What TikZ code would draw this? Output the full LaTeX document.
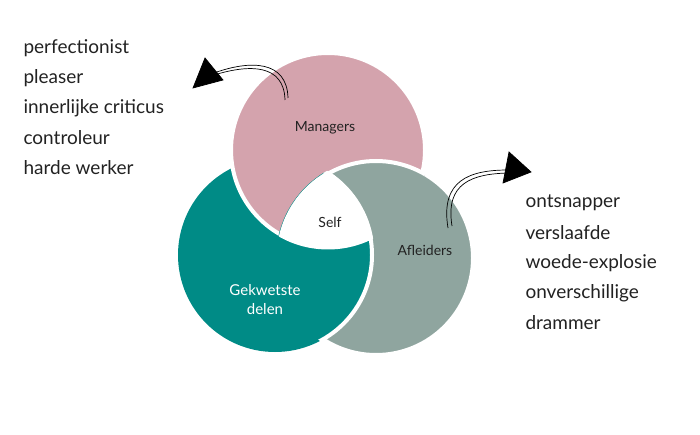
\documentclass[tikz,border=0pt]{standalone}
\usepackage{fontspec}
\setmainfont{Lato}
\definecolor{pinkc}{HTML}{D4A3AD}
\definecolor{tealc}{HTML}{008B86}
\definecolor{greyc}{HTML}{8FA59F}
\definecolor{txt}{HTML}{222222}
\begin{document}
\begin{tikzpicture}[x=1pt,y=-1pt,
  blob/.style={draw=white,line width=4pt},
  lst/.style={anchor=west,font=\fontsize{19}{19}\selectfont,text=txt},
  lab/.style={font=\fontsize{14}{17}\selectfont,text=txt,align=center},
  sk/.style={black,line width=0.7pt}]
\useasboundingbox (0,0) rectangle (700,435);
\def\P{(328,150) circle (97)}
\def\T{(275,255) circle (97)}
\def\G{(376,258) circle (97)}
\fill[tealc] \T;
\filldraw[greyc,blob] \G;
\filldraw[pinkc,blob] \P;
\begin{scope}\clip (328,150) circle (100); \filldraw[greyc,blob] \G; \end{scope}
\begin{scope}\clip (376,258) circle (100); \filldraw[tealc,blob] \T; \end{scope}
\begin{scope}\clip (328,150) circle (99.5); \clip (275,255) circle (99.5); \fill[white] (376,258) circle (99.5); \end{scope}
\node[lab] (m) at (325,128) {Managers};
\node[lab] (s) at (330,222) {Self};
\node[lab] (a) at (425,250) {Afleiders};
\node[lab,text=white,font=\fontsize{15}{19}\selectfont] (g) at (265,300) {Gekwetste\\delen};
\foreach \t [count=\i] in {perfectionist,pleaser,innerlijke criticus,controleur,harde werker}
  \node[lst] (l\i) at (20,48+30*\i-30) {\t};
\foreach \t [count=\i] in {ontsnapper,verslaafde,woede-explosie,onverschillige,drammer}
  \node[lst] (r\i) at (522,203+30*\i-30) {\t};
% left arrow
\coordinate (la) at (288,98);
\coordinate (lb) at (214,73);
\draw[sk] (la) .. controls (287,60) and (250,60) .. (lb);
\draw[sk] (285,100) .. controls (284,64) and (250,64) .. (214,75);
\filldraw[sk,fill=black] (205,58) -- (223,80) -- (193,88) -- cycle;
\draw[sk] (207,62) -- (196,86) (209,66) -- (218,80);
% right arrow
\coordinate (ra) at (448,228);
\coordinate (rb) at (508,170);
\draw[sk] (ra) .. controls (440,180) and (470,170) .. (rb);
\draw[sk] (452,226) .. controls (445,183) and (472,174) .. (508,173);
\filldraw[sk,fill=black] (509,152) -- (531,172) -- (503,183) -- cycle;
\draw[sk] (511,157) -- (506,180) (512,160) -- (527,172);
\end{tikzpicture}
\end{document}
